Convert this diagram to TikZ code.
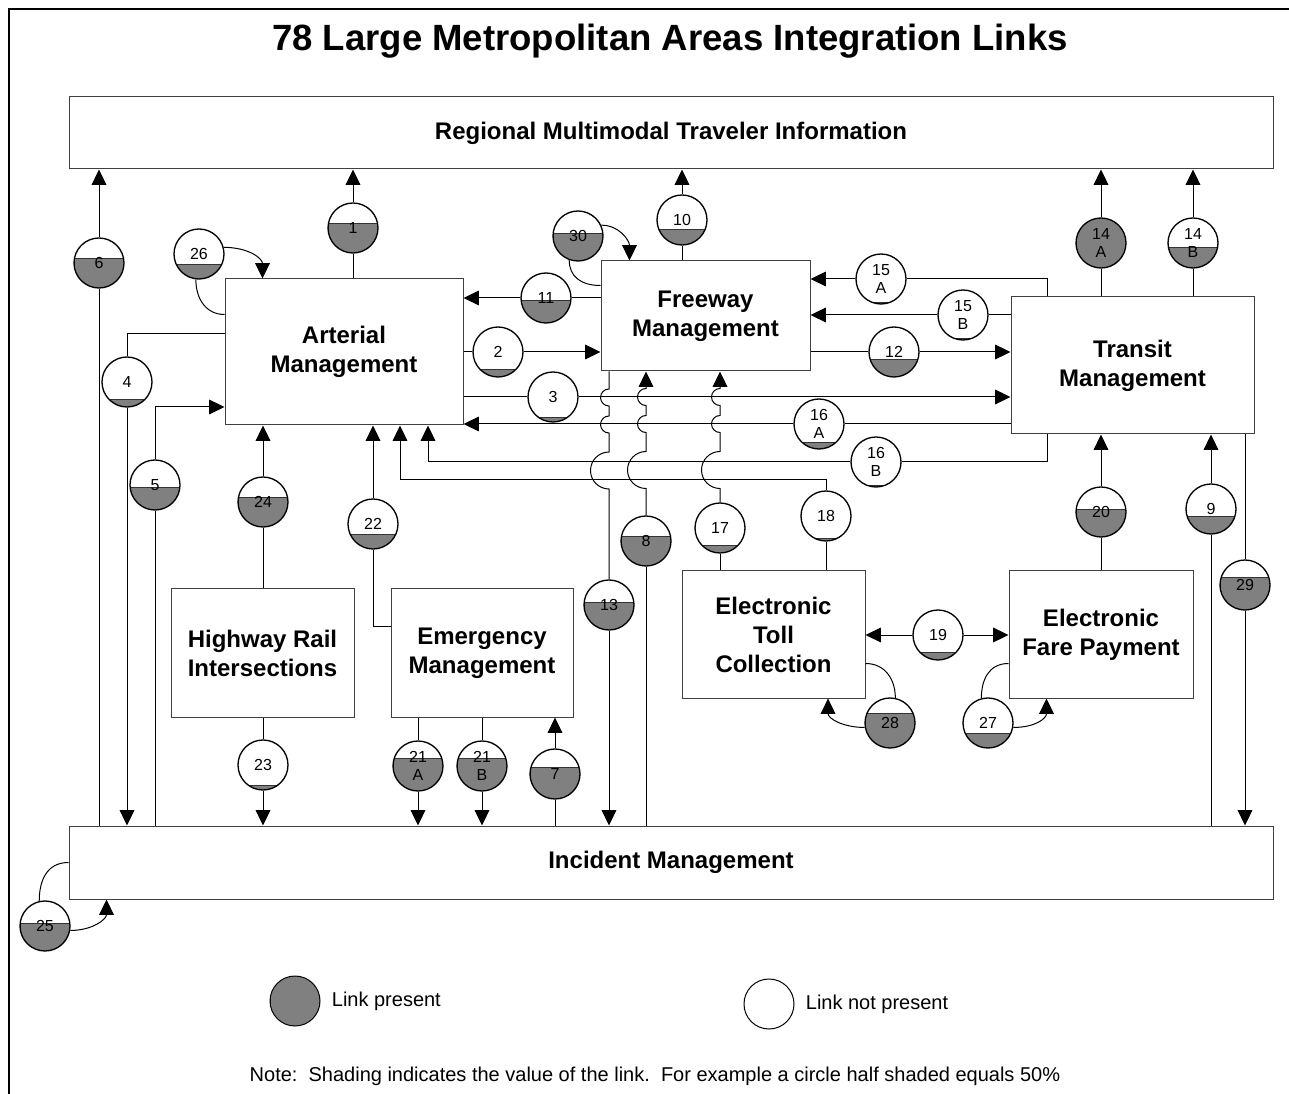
\documentclass[tikz,border=0pt]{standalone}
\usepackage{fontspec}
\setmainfont{Liberation Sans}
\usepackage{xcolor}
\usepackage{tikz}
\usetikzlibrary{arrows.meta,positioning,calc}
\definecolor{linkgray}{HTML}{808080}

\begin{document}
\begin{tikzpicture}[
    x=0.75pt, y=-0.75pt,
    sysbox/.style={rectangle, draw=black!75, line width=0.75pt, fill=white, align=center, inner sep=0pt, font=\bfseries\fontsize{18}{21.75}\selectfont},
    link/.style={circle, draw, line width=1pt, fill=white, minimum size=37.5pt, inner sep=0pt, align=center, font=\fontsize{12}{13.5}\selectfont,
        path picture={\filldraw[fill=linkgray, draw=black!80, line width=0.6pt] (path picture bounding box.south west) rectangle ([yshift={-0.75pt*(#1)}]path picture bounding box.east);}},
    arrow/.style={-{Triangle[length=11.5pt, width=11pt]}, line width=0.75pt},
    wire/.style={line width=0.75pt},
    legend/.style={font=\fontsize{15}{18}\selectfont}
]
    \useasboundingbox (0,0) rectangle (1289,1094);
    \draw[line width=1.5pt] (9,1094) -- (9,9) -- (1289,9);

    % Title
    \node[font=\bfseries\fontsize{27.4}{33}\selectfont, anchor=base] (title) at (670,51) {78 Large Metropolitan Areas Integration Links};

    % Systems
    \node[sysbox, minimum width=903pt, minimum height=54pt] (rmti) at (671,133) {Regional Multimodal Traveler Information};
    \node[sysbox, minimum width=178.5pt, minimum height=109.5pt] (art) at (344,352) {Arterial\\Management};
    \node[sysbox, minimum width=156.75pt, minimum height=82.5pt] (fwy) at (705.5,316) {Freeway\\Management};
    \node[sysbox, minimum width=182.25pt, minimum height=102.75pt] (trn) at (1132.5,365.5) {Transit\\Management};
    \node[sysbox, minimum width=137.25pt, minimum height=96pt] (hri) at (262.5,653) {Highway Rail\\Intersections};
    \node[sysbox, minimum width=136.5pt, minimum height=96pt] (emg) at (482,653) {Emergency\\Management};
    \node[sysbox, minimum width=137.25pt, minimum height=95.25pt] (etc) at (773.5,634.5) {Electronic\\Toll\\Collection};
    \node[sysbox, minimum width=138pt, minimum height=95.25pt] (efp) at (1101,634.5) {Electronic\\Fare Payment};
    \node[sysbox, minimum width=903pt, minimum height=54.75pt] (inc) at (671,862.5) {Incident Management};

    % Links
    \node[link=-5] (l1) at (353,228) {1};
    \node[link=17] (l2) at (498,352) {2};
    \node[link=20] (l3) at (553,397) {3};
    \node[link=17.6] (l4) at (127,382) {4};
    \node[link=2.7] (l5) at (155,485) {5};
    \node[link=-5] (l6) at (99,263) {6};
    \node[link=-7] (l7) at (555,774) {7};
    \node[link=-5] (l8) at (646,541) {8};
    \node[link=7] (l9) at (1211,509) {9};
    \node[link=9] (l10) at (682,220) {10};
    \node[link=2.4] (l11) at (546,298) {11};
    \node[link=7] (l12) at (894,352) {12};
    \node[link=-2.3] (l13) at (609,605) {13};
    \node[link=-30] (l14a) at (1101,243) {14\\A};
    \node[link=4.7] (l14b) at (1193,243) {14\\B};
    \node[link=23.5] (l15a) at (881,279) {15\\A};
    \node[link=23.5] (l15b) at (963,315) {15\\B};
    \node[link=18] (l16a) at (819,424) {16\\A};
    \node[link=23.5] (l16b) at (876,462) {16\\B};
    \node[link=17] (l17) at (720,528) {17};
    \node[link=22.5] (l18) at (826,516) {18};
    \node[link=17] (l19) at (938,635) {19};
    \node[link=-2.7] (l20) at (1101,512) {20};
    \node[link=-8] (l21a) at (418,766) {21\\A};
    \node[link=-8] (l21b) at (482,766) {21\\B};
    \node[link=10] (l22) at (373,524) {22};
    \node[link=20.7] (l23) at (263,765) {23};
    \node[link=-5] (l24) at (263,502) {24};
    \node[link=-3] (l25) at (45,926) {25};
    \node[link=10] (l26) at (199,254) {26};
    \node[link=10] (l27) at (988,723) {27};
    \node[link=-10] (l28) at (890,723) {28};
    \node[link=-8] (l29) at (1245,585) {29};
    \node[link=-3] (l30) at (578,236) {30};

    % Bends
    \coordinate (c4) at (127,334);
    \coordinate (c5) at (155,407);
    \coordinate (c15a) at (1047,279);
    \coordinate (c16b) at (428,462);
    \coordinate (t16b) at (1047,462);
    \coordinate (c18) at (400,480);
    \coordinate (c22) at (373,626);
    \coordinate (h8) at (646,488.5);
    \coordinate (h17) at (720,488.5);

    % To traveler information
    \draw[wire] (inc.north -| l6) -- (l6);
    \draw[arrow] (l6) -- (l6 |- rmti.south);
    \draw[wire] (art.north -| l1) -- (l1);
    \draw[arrow] (l1) -- (l1 |- rmti.south);
    \draw[wire] (fwy.north -| l10) -- (l10);
    \draw[arrow] (l10) -- (l10 |- rmti.south);
    \draw[wire] (trn.north -| l14a) -- (l14a);
    \draw[arrow] (l14a) -- (l14a |- rmti.south);
    \draw[wire] (trn.north -| l14b) -- (l14b);
    \draw[arrow] (l14b) -- (l14b |- rmti.south);

    % Arterial, freeway and transit
    \draw[wire] (fwy.west |- l11) -- (l11);
    \draw[arrow] (l11) -- (l11 -| art.east);
    \draw[wire] (art.east |- l2) -- (l2);
    \draw[arrow] (l2) -- (l2 -| fwy.west);
    \draw[wire] (art.east |- l3) -- (l3);
    \draw[arrow] (l3) -- (l3 -| trn.west);
    \draw[wire] (trn.west |- l16a) -- (l16a);
    \draw[arrow] (l16a) -- (l16a -| art.east);
    \draw[wire] (t16b |- trn.south) -- (t16b) -- (l16b);
    \draw[arrow] (l16b) -- (c16b) -- (c16b |- art.south);
    \draw[wire] (fwy.east |- l12) -- (l12);
    \draw[arrow] (l12) -- (l12 -| trn.west);
    \draw[wire] (trn.west |- l15b) -- (l15b);
    \draw[arrow] (l15b) -- (l15b -| fwy.east);
    \draw[wire] (c15a |- trn.north) -- (c15a) -- (l15a);
    \draw[arrow] (l15a) -- (l15a -| fwy.east);

    % Into arterial
    \draw[wire] (art.west |- c4) -- (c4) -- (l4);
    \draw[arrow] (l4) -- (l4 |- inc.north);
    \draw[wire] (inc.north -| l5) -- (l5);
    \draw[arrow] (l5) -- (c5) -- (c5 -| art.west);
    \draw[wire] (hri.north -| l24) -- (l24);
    \draw[arrow] (l24) -- (l24 |- art.south);
    \draw[wire] (emg.west |- c22) -- (c22) -- (l22);
    \draw[arrow] (l22) -- (l22 |- art.south);
    \draw[wire] (etc.north -| l18) -- (l18);
    \draw[arrow] (l18) -- (l18 |- c18) -- (c18) -- (c18 |- art.south);

    % Hops under freeway
    \draw[wire] (fwy.south -| l13) -- ++(0,17.5) arc[start angle=90, end angle=270, radius=6.375pt]
        -- ++(0,10) arc[start angle=90, end angle=270, radius=6.375pt]
        -- ++(0,19) arc[start angle=90, end angle=270, radius=13.875pt] -- (l13);
    \draw[arrow] (l13) -- (l13 |- inc.north);
    \draw[wire] (inc.north -| l8) -- (l8);
    \draw[arrow] (l8) -- (h8) arc[start angle=270, end angle=90, radius=13.875pt]
        -- ++(0,-19) arc[start angle=270, end angle=90, radius=6.375pt]
        -- ++(0,-10) arc[start angle=270, end angle=90, radius=6.375pt] -- (l8 |- fwy.south);
    \draw[wire] (etc.north -| l17) -- (l17);
    \draw[arrow] (l17) -- (h17) arc[start angle=270, end angle=90, radius=13.875pt]
        -- ++(0,-19) arc[start angle=270, end angle=90, radius=6.375pt]
        -- ++(0,-10) arc[start angle=270, end angle=90, radius=6.375pt] -- (l17 |- fwy.south);

    % Transit, toll and fare
    \draw[wire] (efp.north -| l20) -- (l20);
    \draw[arrow] (l20) -- (l20 |- trn.south);
    \draw[wire] (inc.north -| l9) -- (l9);
    \draw[arrow] (l9) -- (l9 |- trn.south);
    \draw[wire] (trn.south -| l29) -- (l29);
    \draw[arrow] (l29) -- (l29 |- inc.north);
    \draw[arrow] (l19) -- (l19 -| etc.east);
    \draw[arrow] (l19) -- (l19 -| efp.west);

    % Into incident
    \draw[wire] (hri.south -| l23) -- (l23);
    \draw[arrow] (l23) -- (l23 |- inc.north);
    \draw[wire] (emg.south -| l21a) -- (l21a);
    \draw[arrow] (l21a) -- (l21a |- inc.north);
    \draw[wire] (emg.south -| l21b) -- (l21b);
    \draw[arrow] (l21b) -- (l21b |- inc.north);
    \draw[wire] (inc.north -| l7) -- (l7);
    \draw[arrow] (l7) -- (l7 |- emg.south);

    % Loops
    \draw[arrow] (l26.15) .. controls +(25,0) and +(0,-20) .. ([xshift=28.5pt]art.north west);
    \draw[wire] (l26.263) .. controls +(0,20) and +(-18,0) .. ([yshift=-27pt]art.north west);
    \draw[arrow] (l30.25) .. controls +(18,0) and +(0,-20) .. ([xshift=21.75pt]fwy.north west);
    \draw[wire] (l30.250) .. controls +(0,16) and +(-20,0) .. ([yshift=-18.75pt]fwy.north west);
    \draw[wire] ([yshift=26.25pt]etc.south east) .. controls +(20,0) and +(0,-18) .. (l28.78);
    \draw[arrow] (l28.190) .. controls +(-22,0) and +(0,20) .. ([xshift=40.9pt]etc.south);
    \draw[wire] ([yshift=26.25pt]efp.south west) .. controls +(-20,0) and +(0,-18) .. (l27.105);
    \draw[arrow] (l27.350) .. controls +(22,0) and +(0,20) .. ([xshift=28.5pt]efp.south west);
    \draw[wire] ([yshift=-27.75pt]inc.north west) .. controls +(-22,0) and +(0,-20) .. (l25.103);
    \draw[arrow] (l25.350) .. controls +(22,0) and +(0,20) .. ([xshift=28.5pt]inc.south west);

    % Legend
    \node[link=-30, line width=0.75pt] (legon) at (295,1001) {};
    \node[legend, right=5pt of legon] (legontext) {Link present};
    \node[circle, draw, line width=0.75pt, minimum size=37.5pt, inner sep=0pt] (legoff) at (769,1004) {};
    \node[legend, right=5pt of legoff] (legofftext) {Link not present};
    \node[legend, anchor=base west] (note) at (245,1081) {Note:\ \ Shading indicates the value of the link.\ \ For example a circle half shaded equals 50\%};
\end{tikzpicture}
\end{document}
